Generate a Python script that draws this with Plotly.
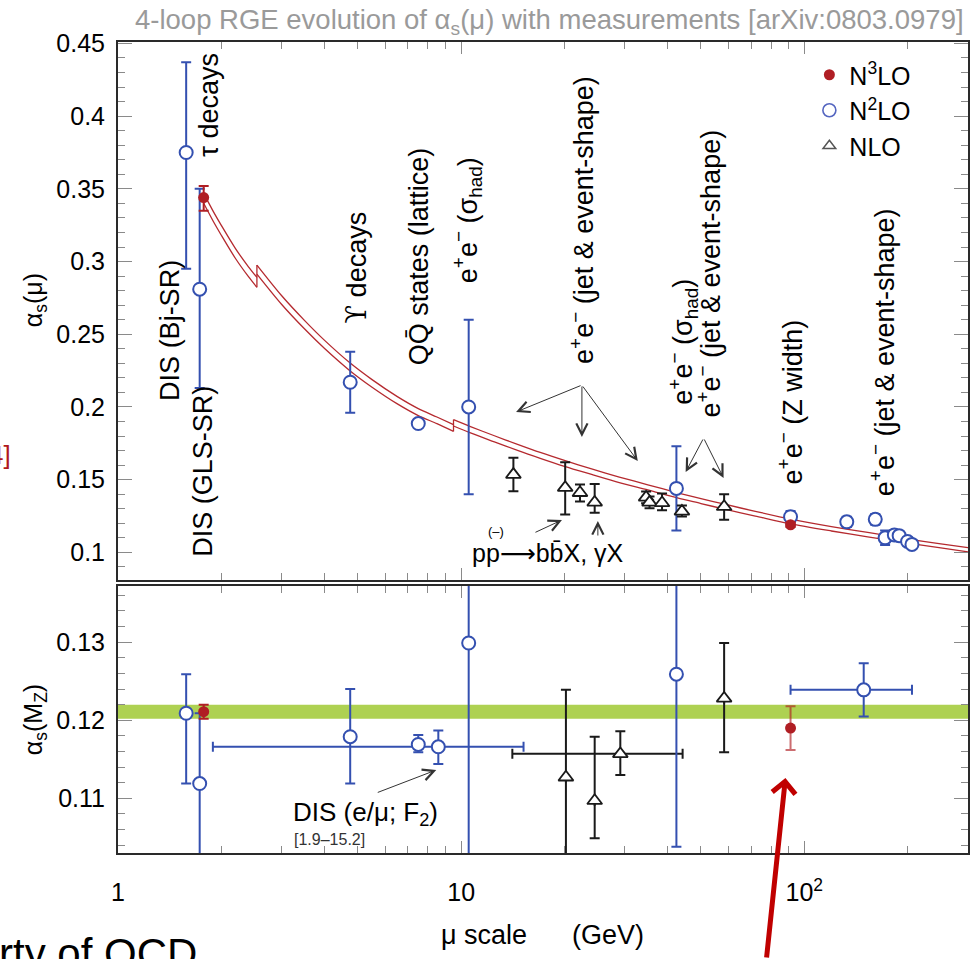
import math
import plotly.graph_objects as go

# ------------------------------------------------------------------ data
# top panel: alpha_s(mu) at the measurement scale mu (GeV)
n3lo_top_mu = [1.777, 91.19]
n3lo_top_as = [0.344, 0.119]
n3lo_top_ep = [0.008, 0.0015]
n3lo_top_em = [0.009, 0.0015]

n2lo_top_mu = [1.58, 1.73, 4.75, 7.5, 10.52, 42.4, 91.2, 133, 161, 172, 183, 189, 200, 206]
n2lo_top_as = [0.375, 0.281, 0.217, 0.1886, 0.200, 0.144, 0.1245, 0.121, 0.1227, 0.110, 0.112, 0.1115, 0.1075, 0.1055]
n2lo_top_ep = [0.062, 0.069, 0.021, 0.0, 0.060, 0.029, 0.004, 0.0035, 0.0037, 0.005, 0.002, 0.002, 0.002, 0.002]
n2lo_top_em = [0.080, 0.068, 0.021, 0.0, 0.060, 0.029, 0.004, 0.0035, 0.0037, 0.005, 0.002, 0.002, 0.002, 0.002]

nlo_top_mu = [14.2, 20.1, 22.2, 24.5, 34.6, 35.4, 38.5, 44.0, 58.4]
nlo_top_as = [0.1535, 0.1445, 0.141, 0.1344, 0.1378, 0.1344, 0.134, 0.1282, 0.1314]
nlo_top_ep = [0.0115, 0.0175, 0.0056, 0.0126, 0.004, 0.004, 0.0065, 0.004, 0.0086]
nlo_top_em = [0.0115, 0.0185, 0.006, 0.0071, 0.004, 0.004, 0.005, 0.0035, 0.0089]

# 4-loop running band (upper / lower edge), three flavour segments
run1_mu = [1.777, 1.9, 2.0, 2.2, 2.4, 2.54]
run1_up = [0.3469, 0.3340, 0.3249, 0.3089, 0.2964, 0.2891]
run1_lo = [0.3401, 0.3272, 0.3181, 0.3021, 0.2896, 0.2823]
run2_mu = [2.54, 3.0, 3.5, 4.0, 4.75, 5.5, 6.5, 7.5, 8.5, 9.5]
run2_up = [0.2976, 0.2765, 0.2594, 0.2458, 0.2302, 0.2188, 0.2073, 0.1989, 0.1931, 0.1878]
run2_lo = [0.2914, 0.2705, 0.2536, 0.2402, 0.2248, 0.2136, 0.2023, 0.1941, 0.1885, 0.1832]
run3_mu = [9.5, 10.6, 12.5, 14.6, 17, 20, 24, 28.9, 35, 42.7, 50, 58.6, 72, 91.2, 120, 153, 200, 250, 300]
run3_up = [0.1913, 0.1867, 0.1802, 0.1743, 0.1687, 0.1632, 0.1574, 0.1518, 0.1465, 0.1410,
           0.1370, 0.1331, 0.1282, 0.1228, 0.1177, 0.1137, 0.1092, 0.1059, 0.1032]
run3_lo = [0.1869, 0.1823, 0.1760, 0.1701, 0.1647, 0.1592, 0.1536, 0.1480, 0.1429, 0.1374,
           0.1336, 0.1297, 0.1250, 0.1196, 0.1147, 0.1107, 0.1064, 0.1031, 0.1004]

# bottom panel: alpha_s(M_Z)
n3lo_bot_mu = [1.777, 91.19]
n3lo_bot_as = [0.1211, 0.1190]
n3lo_bot_ep = [0.0009, 0.0028]
n3lo_bot_em = [0.0009, 0.0028]

n2lo_bot_mu = [1.58, 1.73, 4.75, 7.5, 8.58, 10.52, 42.4, 149]
n2lo_bot_as = [0.1209, 0.1119, 0.1179, 0.1169, 0.1166, 0.1299, 0.1259, 0.1239]
n2lo_bot_ep = [0.0050, 0.0090, 0.0061, 0.0012, 0.0021, 0.0300, 0.0220, 0.0034]
n2lo_bot_em = [0.0090, 0.0120, 0.0060, 0.0010, 0.0022, 0.0300, 0.0221, 0.0034]
n2lo_bot_mu_lo = [None, None, None, None, 1.89, None, None, 91.2]
n2lo_bot_mu_hi = [None, None, None, None, 15.2, None, None, 206]

nlo_bot_mu = [20.2, 24.5, 29.1, 58.4]
nlo_bot_as = [0.1127, 0.1097, 0.1157, 0.1228]
nlo_bot_ep = [0.0112, 0.0082, 0.0029, 0.0071]
nlo_bot_em = [0.0120, 0.0048, 0.0027, 0.0069]
nlo_bot_mu_lo = [None, None, 14.1, None]
nlo_bot_mu_hi = [None, None, 44.2, None]

world_band = [0.1202, 0.1220]

x_major = [1, 10, 100]
x_major_text = ["1", "10", "10<sup>2</sup>"]
x_minor = [2, 3, 4, 5, 6, 7, 8, 9, 20, 30, 40, 50, 60, 70, 80, 90, 200, 300]

# ------------------------------------------------------------------ layout helpers
W, H = 980, 959
L, R, T, B = 118, 10, 42, 106


def PX(x):
    return (x - L) / (W - L - R)


def PY(y):
    return (H - B - y) / (H - T - B)


FONT = "Liberation Sans, Arial, Helvetica, sans-serif"
RED = "#b01e24"
BLUE = "#3450b0"
BLACK = "#1a1a1a"
CURVE = "#b52a2f"

fig = go.Figure()

# ------------------------------------------------------------------ running curve
for mu, up, lo in [(run1_mu, run1_up, run1_lo), (run2_mu, run2_up, run2_lo), (run3_mu, run3_up, run3_lo)]:
    for arr in (up, lo):
        fig.add_trace(go.Scatter(x=mu, y=arr, mode="lines",
                                 line=dict(color=CURVE, width=1.3, shape="spline", smoothing=0.8),
                                 xaxis="x", yaxis="y", showlegend=False, hoverinfo="skip"))
for prev, nxt in [((run1_mu, run1_lo), (run2_mu, run2_up)), ((run2_mu, run2_lo), (run3_mu, run3_up))]:
    fig.add_trace(go.Scatter(x=[nxt[0][0], nxt[0][0]], y=[prev[1][-1], nxt[1][0]], mode="lines",
                             line=dict(color=CURVE, width=1.3), xaxis="x", yaxis="y",
                             showlegend=False, hoverinfo="skip"))


def xerr(mu, lo, hi, color):
    plus = [(h - m) if h is not None else 0 for m, h in zip(mu, hi)]
    minus = [(m - l) if l is not None else 0 for m, l in zip(mu, lo)]
    return dict(type="data", symmetric=False, array=plus, arrayminus=minus,
                color=color, thickness=2, width=5)


def pts(mu, a, ep, em, color, marker, xa, ya, err_color=None, ex=None):
    fig.add_trace(go.Scatter(
        x=mu, y=a, mode="markers", marker=marker, xaxis=xa, yaxis=ya, showlegend=False,
        error_y=dict(type="data", symmetric=False, array=ep, arrayminus=em,
                     color=err_color or color, thickness=2, width=5),
        error_x=ex, hoverinfo="skip"))


m_red = dict(symbol="circle", size=11, color=RED, line=dict(width=0))
m_blue = dict(symbol="circle", size=13, color="white", line=dict(color=BLUE, width=2))
m_tri = dict(symbol="triangle-up", size=13, color="white", line=dict(color=BLACK, width=1.8))

# top panel points
pts(n2lo_top_mu, n2lo_top_as, n2lo_top_ep, n2lo_top_em, BLUE, m_blue, "x", "y")
pts(nlo_top_mu, nlo_top_as, nlo_top_ep, nlo_top_em, BLACK, m_tri, "x", "y")
pts(n3lo_top_mu, n3lo_top_as, n3lo_top_ep, n3lo_top_em, RED, m_red, "x", "y")

# bottom panel points
pts(nlo_bot_mu, nlo_bot_as, nlo_bot_ep, nlo_bot_em, BLACK, m_tri, "x2", "y2",
    ex=xerr(nlo_bot_mu, nlo_bot_mu_lo, nlo_bot_mu_hi, BLACK))
pts(n2lo_bot_mu, n2lo_bot_as, n2lo_bot_ep, n2lo_bot_em, BLUE, m_blue, "x2", "y2",
    ex=xerr(n2lo_bot_mu, n2lo_bot_mu_lo, n2lo_bot_mu_hi, BLUE))
red_err_colors = [RED, "rgba(176,30,36,0.65)"]
for i in range(len(n3lo_bot_mu)):
    pts([n3lo_bot_mu[i]], [n3lo_bot_as[i]], [n3lo_bot_ep[i]], [n3lo_bot_em[i]], RED, m_red,
        "x2", "y2", err_color=red_err_colors[i])

# legend entries
leg = [("N<sup>3</sup>LO", dict(symbol="circle", size=11, color=RED)),
       ("N<sup>2</sup>LO", dict(symbol="circle-open", size=13, color="#5566c0", line=dict(width=1.6))),
       ("NLO", dict(symbol="triangle-up-open", size=11, color="#555555", line=dict(width=1.5)))]
for i, (name, mk) in enumerate(leg):
    fig.add_trace(go.Scatter(x=[None], y=[None], mode="markers", marker=mk, name=name,
                             legendgroup=f"g{i}", xaxis="x", yaxis="y", showlegend=True))

# ------------------------------------------------------------------ axes
tickfont = dict(size=25, family=FONT, color="black")
common = dict(showline=True, linecolor="#2a2a2a", linewidth=2, mirror="ticks", ticks="inside",
              tickcolor="#8a8a8a", tickwidth=1.2, showgrid=False, zeroline=False, tickfont=tickfont)

xcommon = dict(common, type="log", range=[0, math.log10(300)], tickmode="array",
               tickvals=x_major, ticktext=x_major_text, ticklen=12,
               minor=dict(tickmode="array", tickvals=x_minor, ticks="inside", ticklen=7,
                          tickcolor="#8a8a8a", tickwidth=1.2))

fig.update_layout(
    width=W, height=H, margin=dict(l=L, r=R, t=T, b=B),
    paper_bgcolor="white", plot_bgcolor="white",
    font=dict(family=FONT, size=25, color="black"),
    xaxis=dict(xcommon, domain=[0, 1], anchor="y", matches="x2", showticklabels=False),
    xaxis2=dict(xcommon, domain=[0, 1], anchor="y2", showticklabels=True, ticklabelstandoff=16),
    yaxis=dict(common, domain=[PY(580), 1.0], anchor="x", range=[0.081, 0.451],
               tick0=0.1, dtick=0.05, ticklen=14, ticklabelstandoff=6,
               minor=dict(dtick=0.01, tick0=0, ticks="inside", ticklen=7, tickcolor="#8a8a8a", tickwidth=1.2)),
    yaxis2=dict(common, domain=[0, PY(586)], anchor="x2", range=[0.1030, 0.1372],
                tick0=0.11, dtick=0.01, ticklen=14, ticklabelstandoff=6,
                minor=dict(dtick=0.002, tick0=0.1, ticks="inside", ticklen=7, tickcolor="#8a8a8a", tickwidth=1.2)),
    legend=dict(x=PX(811), y=PY(52), xanchor="left", yanchor="top", bgcolor="rgba(0,0,0,0)",
                font=dict(size=25, family=FONT), traceorder="grouped", tracegroupgap=0),
    showlegend=True,
)

fig.add_shape(type="rect", xref="x2 domain", x0=0, x1=1, yref="y2",
              y0=world_band[0], y1=world_band[1], fillcolor="#aed152", line=dict(width=0), layer="below")

# ------------------------------------------------------------------ annotations
ann = []


def text(t, x, y, size=27, angle=0, color="black", family=FONT, xanchor="center", yanchor="middle"):
    ann.append(dict(text=t, x=PX(x), y=PY(y), xref="paper", yref="paper", showarrow=False,
                    textangle=angle, xanchor=xanchor, yanchor=yanchor,
                    font=dict(size=size, color=color, family=family)))


def arrow(hx, hy, tx, ty, color="#333333", width=1, head=5, size=2.2):
    ann.append(dict(text="", x=PX(hx), y=PY(hy), xref="paper", yref="paper", showarrow=True,
                    ax=tx - hx, ay=ty - hy, arrowhead=head, arrowsize=size, arrowwidth=width,
                    arrowcolor=color, standoff=0, startstandoff=0))


EE = "e<sup>+</sup>e<sup>−</sup>"
UPS = '<span style="font-family:DejaVu Serif">ϒ</span>'
rot_labels = [
    ("τ decays", 209, 105),
    ("DIS (Bj-SR)", 170, 330),
    ("DIS (GLS-SR)", 203, 471),
    (UPS + " decays", 357, 267),
    ("QQ̄ states (lattice)", 420, 256),
    (EE + " (σ<sub>had</sub>)", 468, 220),
    (EE + " (jet &amp; event-shape)", 583, 220),
    (EE + " (σ<sub>had</sub>)", 684, 342),
    (EE + " (jet &amp; event-shape)", 710, 274),
    (EE + " (Z width)", 792, 402),
    (EE + " (jet &amp; event-shape)", 884, 352),
]
for t, x, y in rot_labels:
    text(t, x, y, size=27, angle=-90)

text('pp<span style="font-family:DejaVu Sans">⟶</span>bb̄X, γX', 549, 553, size=25)
text("(–)", 497, 531, size=13)
text("DIS (e/μ; F<sub>2</sub>)", 366, 813, size=26)
text("[1.9–15.2]", 330, 839, size=16, color="#333333")

arrow(517, 412, 583, 385)
arrow(583, 437, 583, 385)
arrow(639, 461, 583, 385)
arrow(687, 472, 705, 438)
arrow(725, 478, 705, 438)
arrow(563, 520, 535, 533)
arrow(599, 521, 599, 537)
arrow(437, 770, 377, 793)
arrow(787, 778, 768, 962, color="#c00000", width=5, head=4, size=0.9)

# titles
text("4-loop RGE evolution of α<sub>s</sub>(μ) with measurements [arXiv:0803.0979]", 968, 21,
     size=27.5, color="#9a9a9a", xanchor="right")
text("α<sub>s</sub>(μ)", 35, 300, size=25, angle=-90)
text("α<sub>s</sub>(M<sub>Z</sub>)", 35, 720, size=25, angle=-90)
text("μ scale\u00a0\u00a0\u00a0\u00a0\u00a0\u00a0(GeV)", 543, 935, size=27)
text("4]", 13, 455, size=26, color="#b0181c", xanchor="right")
text("rty of QCD", -3, 928, size=42, xanchor="left", yanchor="top")

fig.update_layout(annotations=ann)

fig.write_html("out.html", config={"displayModeBar": False})
